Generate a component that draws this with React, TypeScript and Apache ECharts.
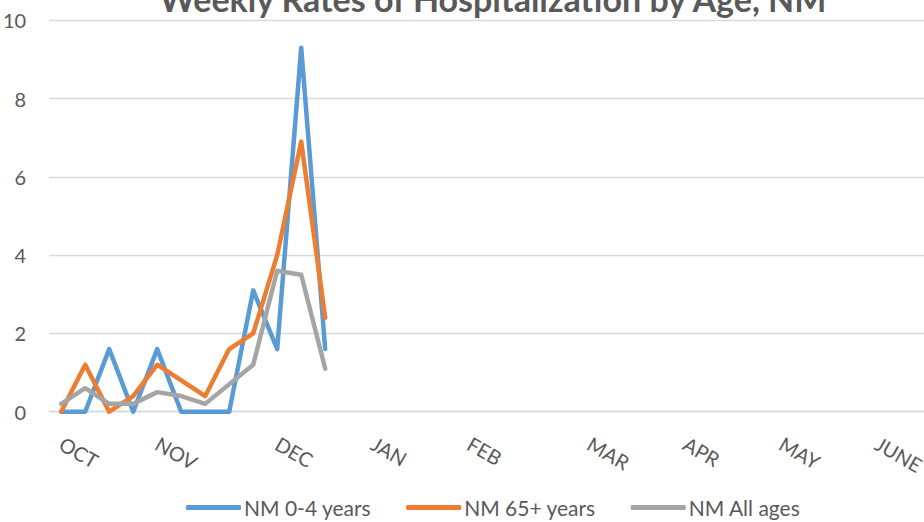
import React, { useEffect, useRef } from "react";
import * as echarts from "echarts";

const titleText = "Weekly Rates of Hospitalization by Age, NM";

// MMWR weeks of the season (Oct -> June)
const weeks = [
  "40", "41", "42", "43", "44", "45", "46", "47", "48", "49", "50", "51", "52",
  "1", "2", "3", "4", "5", "6", "7", "8", "9", "10", "11", "12",
  "13", "14", "15", "16", "17", "18", "19", "20", "21", "22", "23", "24",
];
const monthLabels = ["OCT", "NOV", "DEC", "JAN", "FEB", "MAR", "APR", "MAY", "JUNE"];
const monthStartWeeks = ["40", "44", "49", "1", "5", "10", "14", "18", "22"];

const seriesNames = ["NM 0-4 years", "NM 65+ years", "NM All ages"];
const ages0to4 = [0, 0, 1.6, 0, 1.6, 0, 0, 0, 3.1, 1.6, 9.3, 1.6];
const ages65plus = [0, 1.2, 0, 0.4, 1.2, 0.8, 0.4, 1.6, 2.0, 4.0, 6.9, 2.4];
const allAges = [0.2, 0.6, 0.2, 0.2, 0.5, 0.4, 0.2, 0.7, 1.2, 3.6, 3.5, 1.1];
const seriesColors = ["#5B9BD5", "#ED7D31", "#A5A5A5"];

const yTicks = { min: 0, max: 10, interval: 2 };

const FONT = "Lato, 'Liberation Sans', sans-serif";
const TEXT = "#595959";

export default function App() {
  const ref = useRef<HTMLDivElement>(null);
  useEffect(() => {
    document.body.style.margin = "0";
    if (!ref.current) return;
    const chart = echarts.init(ref.current, undefined, { renderer: "svg" });
    const data = [ages0to4, ages65plus, allAges];
    chart.setOption({
      animation: false,
      title: {
        text: titleText,
        left: "center",
        top: -24,
        textStyle: { fontFamily: FONT, fontSize: 34, fontWeight: "bold", color: TEXT },
      },
      legend: {
        data: seriesNames,
        left: 181,
        top: 492,
        icon: "roundRect",
        itemWidth: 55,
        itemHeight: 5,
        itemGap: 35,
        textStyle: { fontFamily: FONT, fontSize: 21, color: TEXT, padding: [0, 0, 0, -2] },
      },
      grid: { left: 45.5, top: 20.3, width: 891.7, height: 391.4, containLabel: false },
      xAxis: {
        type: "category",
        data: weeks,
        boundaryGap: true,
        axisLine: { show: true, lineStyle: { color: "#D9D9D9", width: 1.3 } },
        axisTick: { show: false },
        splitLine: { show: false },
        axisLabel: {
          interval: 0,
          rotate: -30,
          margin: 30,
          fontFamily: FONT,
          fontSize: 20,
          color: TEXT,
          formatter: (v: string) => {
            const i = monthStartWeeks.indexOf(v);
            return i >= 0 ? monthLabels[i] : "";
          },
        },
      },
      yAxis: {
        type: "value",
        min: yTicks.min,
        max: yTicks.max,
        interval: yTicks.interval,
        axisLine: { show: false },
        axisTick: { show: false },
        splitLine: { lineStyle: { color: "#D9D9D9", width: 1.3 } },
        axisLabel: { margin: 23, fontFamily: FONT, fontSize: 20, color: TEXT },
      },
      series: seriesNames.map((name, k) => ({
        name,
        type: "line",
        data: data[k],
        symbol: "none",
        showSymbol: false,
        color: seriesColors[k],
        lineStyle: { width: 4.5, color: seriesColors[k], cap: "round", join: "round" },
      })),
    });
    return () => chart.dispose();
  }, []);
  return (
    <div style={{ position: "fixed", left: 0, top: 0, width: 924, height: 522, overflow: "hidden", background: "#fff" }}>
      <div ref={ref} style={{ width: 986, height: 522 }} />
    </div>
  );
}
